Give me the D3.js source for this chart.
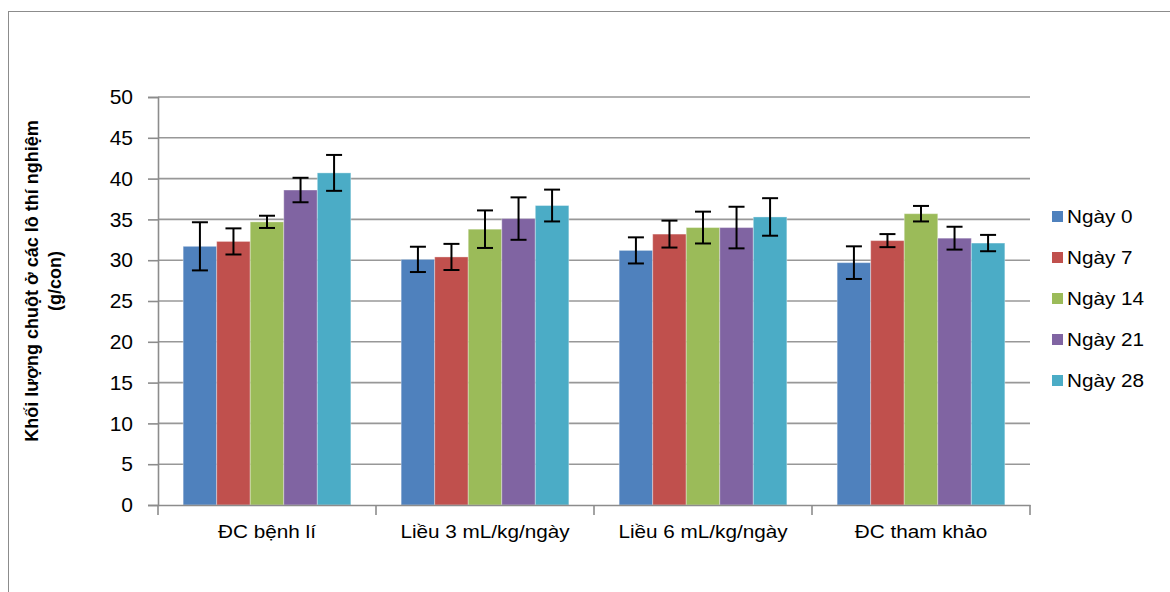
<!DOCTYPE html>
<html><head><meta charset="utf-8">
<script src="https://cdn.jsdelivr.net/npm/d3@7"></script>
<style>body{margin:0;background:#fff}svg{display:block}</style>
</head><body>
<svg id="c" width="1170" height="592"></svg>
<script>
const categories = ["ĐC bệnh lí", "Liều 3 mL/kg/ngày", "Liều 6 mL/kg/ngày", "ĐC tham khảo"];
const seriesNames = ["Ngày 0", "Ngày 7", "Ngày 14", "Ngày 21", "Ngày 28"];
const seriesColors = ["#4F81BD", "#C0504D", "#9BBB59", "#8064A2", "#4BACC6"];
// values per series (one entry per category)
const ngay0  = [31.7, 30.1, 31.2, 29.7];
const ngay7  = [32.3, 30.4, 33.2, 32.4];
const ngay14 = [34.7, 33.8, 34.0, 35.7];
const ngay21 = [38.6, 35.1, 34.0, 32.7];
const ngay28 = [40.7, 36.7, 35.3, 32.1];
// error (± SD) per series
const err0  = [2.95, 1.55, 1.6, 2.0];
const err7  = [1.6, 1.6, 1.65, 0.8];
const err14 = [0.75, 2.3, 1.95, 0.95];
const err21 = [1.5, 2.6, 2.55, 1.4];
const err28 = [2.2, 1.95, 2.3, 1.0];
const yTicks = [0, 5, 10, 15, 20, 25, 30, 35, 40, 45, 50];

const values = [ngay0, ngay7, ngay14, ngay21, ngay28];
const errors = [err0, err7, err14, err21, err28];

const svg = d3.select("#c");
const font = "'Liberation Sans', Arial, sans-serif";
const L = 158, R = 1030, T = 97, B = 505;
const SX = 1.12; // horizontal text stretch seen in the reference

// outer frame
svg.append("rect").attr("x", 8.5).attr("y", 11.5).attr("width", 1175).attr("height", 600)
  .attr("fill", "none").attr("stroke", "#8c8c8c").attr("stroke-width", 1);

const x0 = d3.scaleBand().domain(categories).range([L, R]).paddingInner(0).paddingOuter(0);
const x1 = d3.scaleBand().domain(seriesNames).range([0, x0.bandwidth()]).paddingOuter(0.75).paddingInner(0);
const y = d3.scaleLinear().domain([0, 50]).range([B, T]);

// gridlines
svg.append("g").selectAll("line").data(yTicks.filter(d => d > 0)).join("line")
  .attr("x1", L).attr("x2", R).attr("y1", d => y(d)).attr("y2", d => y(d))
  .attr("stroke", "#989898").attr("stroke-width", 1.6);

// y axis
const yAxis = svg.append("g").attr("transform", `translate(${L},0)`)
  .call(d3.axisLeft(y).tickValues(yTicks).tickSize(10).tickPadding(15));
yAxis.select(".domain").attr("stroke", "#8c8c8c").attr("stroke-width", 1.6);
yAxis.selectAll(".tick line").attr("stroke", "#8c8c8c").attr("stroke-width", 1.6);
yAxis.selectAll(".tick text").attr("font-family", font).attr("font-size", 21).attr("fill", "#000");

// bars
const groups = svg.append("g").selectAll("g").data(seriesNames).join("g")
  .attr("fill", (d, i) => seriesColors[i]);
groups.each(function(s, si) {
  const g = d3.select(this);
  g.selectAll("rect").data(categories).join("rect")
    .attr("x", (c) => x0(c) + x1(s))
    .attr("y", (c, ci) => y(values[si][ci]))
    .attr("width", x1.bandwidth())
    .attr("height", (c, ci) => y(0) - y(values[si][ci]))
    .attr("stroke", "rgba(255,255,255,0.35)").attr("stroke-width", 1);
});

// x axis
const xAxis = svg.append("g").attr("transform", `translate(0,${B})`)
  .call(d3.axisBottom(x0).tickSize(0).tickPadding(20));
xAxis.select(".domain").attr("stroke", "#8c8c8c").attr("stroke-width", 1.6);
xAxis.selectAll(".tick text").attr("font-family", font).attr("font-size", 18.5).attr("fill", "#000")
  .attr("transform", `scale(${SX},1)`);
// category boundary ticks
const bounds = categories.map(c => x0(c)).concat([R]);
svg.append("g").selectAll("line").data(bounds).join("line")
  .attr("x1", d => d).attr("x2", d => d).attr("y1", B).attr("y2", B + 10)
  .attr("stroke", "#8c8c8c").attr("stroke-width", 1.6);

// error bars
const eg = svg.append("g").attr("stroke", "#000").attr("stroke-width", 2).attr("fill", "none");
seriesNames.forEach((s, si) => {
  categories.forEach((c, ci) => {
    const cx = x0(c) + x1(s) + x1.bandwidth() / 2;
    const v = values[si][ci], e = errors[si][ci];
    const yt = y(v + e), yb = y(v - e);
    eg.append("line").attr("x1", cx).attr("x2", cx).attr("y1", yt).attr("y2", yb);
    eg.append("line").attr("x1", cx - 8).attr("x2", cx + 8).attr("y1", yt).attr("y2", yt);
    eg.append("line").attr("x1", cx - 8).attr("x2", cx + 8).attr("y1", yb).attr("y2", yb);
  });
});

// y title
const yt = svg.append("text").attr("transform", "translate(38,281) rotate(-90)")
  .attr("text-anchor", "middle").attr("font-family", font).attr("font-weight", "bold")
  .attr("font-size", 18).attr("fill", "#000");
yt.append("tspan").attr("x", 0).attr("dy", 0).text("Khối lượng chuột ở các lô thí nghiệm");
yt.append("tspan").attr("x", 0).attr("dy", 23).text("(g/con)");

// legend
const lg = svg.append("g").selectAll("g").data(seriesNames).join("g")
  .attr("transform", (d, i) => `translate(1052,${217 + i * 41})`);
lg.append("rect").attr("x", 0).attr("y", -6).attr("width", 11).attr("height", 11)
  .attr("fill", (d, i) => seriesColors[i]);
lg.append("g").attr("transform", "translate(15,0)")
  .append("text").attr("x", 0).attr("y", 0).attr("dy", "0.35em")
  .attr("transform", `scale(${SX},1)`)
  .attr("font-family", font).attr("font-size", 18.5).attr("fill", "#000").text(d => d);
</script>
</body></html>
